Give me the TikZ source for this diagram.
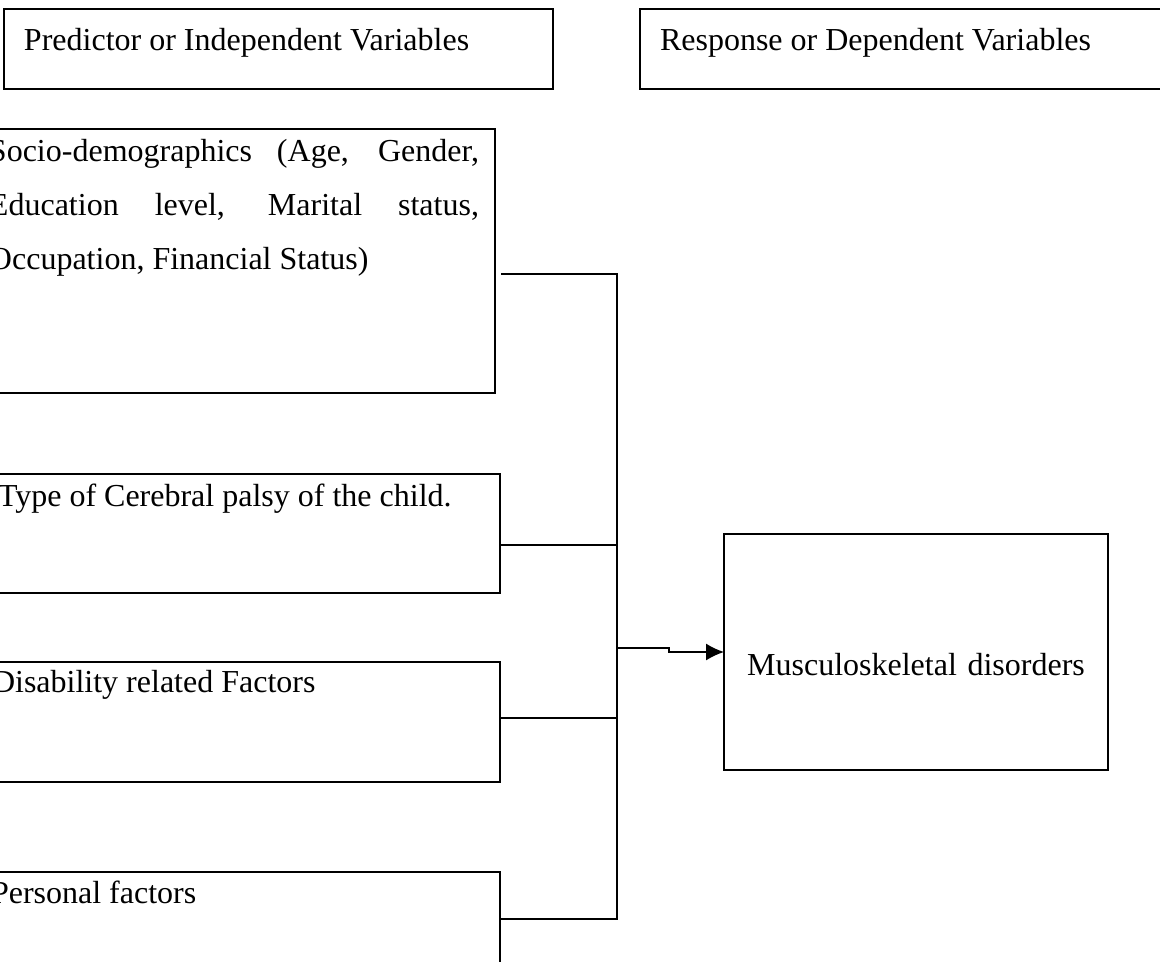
\documentclass[tikz,border=0pt]{standalone}
\usepackage{fontspec}
\setmainfont{Liberation Serif}
\usetikzlibrary{arrows.meta}

\begin{document}
\begin{tikzpicture}[x=0.5pt,y=-0.5pt,line width=0.7pt,
    varbox/.style={draw,anchor=north west,inner ysep=0pt,outer sep=0pt,align=flush left,
      font=\fontsize{16}{27}\selectfont}]
    \useasboundingbox (0,0) rectangle (1160,962);
    % headings
    \node[varbox,inner xsep=10pt,text width=254.5pt,text height=21pt,text depth=19pt] (pred) at (4,9) {Predictor or Independent Variables};
    \node[varbox,inner xsep=10pt,text width=250pt,text height=21pt,text depth=19pt] (resp) at (640,9) {Response or Dependent Variables};
    % predictors
    \node[varbox,align=justify,inner xsep=8pt,text width=245pt,text height=16.5pt,text depth=115.5pt] (socio) at (-27,129)
        {Socio-demographics (Age, Gender,\linebreak Education level, Marital status,\linebreak Occupation, Financial Status)};
    \node[varbox,inner xsep=9pt,text width=242pt,text height=16pt,text depth=43.5pt] (type) at (-20,474) {Type of Cerebral palsy of the child.};
    \node[varbox,inner xsep=9pt,text width=245pt,text height=15pt,text depth=45pt] (disab) at (-26,662) {Disability related Factors};
    \node[varbox,inner xsep=9pt,text width=245.5pt,text height=15.5pt,text depth=48.5pt] (pers) at (-27,872) {Personal factors};
    % response
    \node[varbox,align=center,inner xsep=0pt,text width=192pt,text height=70.5pt,text depth=47.5pt] (musc) at (724,534) {Musculoskeletal disorders};
    \coordinate (j1) at (617,274);
    \coordinate (j2) at (617,545);
    \coordinate (j3) at (617,718);
    \coordinate (j4) at (617,919);
    \coordinate (hub) at (617,648);
    \draw ([xshift=3pt]socio.east |- j1) -- (j1) -- (j4) -- (pers.east |- j4);
    \draw (type.east |- j2) -- (j2);
    \draw (disab.east |- j3) -- (j3);
    \draw[-{Latex[length=9pt,width=8.5pt]}] (hub) -- ++(52,0) -- ++(0,4) -- (musc.west);
\end{tikzpicture}
\end{document}
